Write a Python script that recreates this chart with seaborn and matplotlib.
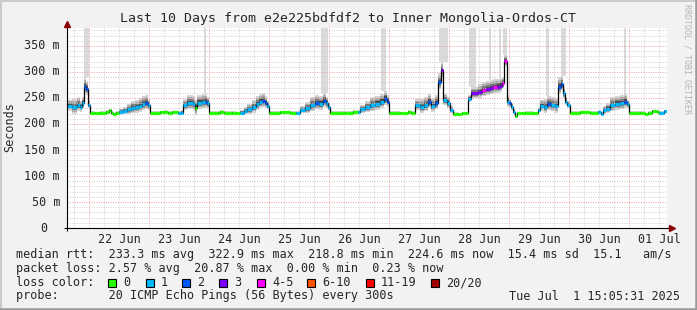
import numpy as np
import pandas as pd
import matplotlib
matplotlib.use("Agg")
import matplotlib.pyplot as plt
import matplotlib.transforms as mtransforms
from matplotlib.patches import Rectangle
from matplotlib.lines import Line2D
import seaborn as sns

# ---------------- data ----------------
# sample start, hours after 2025-06-21 15:05:31 (each value holds until the next sample)
hours = [0, 2, 4, 5.2, 6, 6.8, 7.6, 8.4,
         9.2, 11.2, 13.2, 15.6, 16.8, 17.6, 18.4, 19.6,
         20.8, 22.4, 24, 25.6, 27.2, 28.8, 30, 31.2, 32.4,
         33.2, 37.2, 38.8, 40.4, 42, 44.4,
         45.6, 46.4, 48, 50.4, 51.2, 52, 54, 55.2, 56,
         56.8, 60.4, 61.2, 62.8, 66, 67.6,
         69.2, 70.8, 72, 74, 75.6, 76.8, 78, 79.2, 80,
         80.8, 85.2, 89.2, 91.6,
         93.2, 95.2, 97.2, 99.2, 100.8, 102.4, 103.6, 104.4,
         105.2, 111.2, 114.4, 116.4,
         117.2, 119.2, 121.2, 123.2, 125.2, 126.8, 128,
         128.8, 133.2, 136.4, 137.6,
         139.2, 141.2, 142.8, 144.4, 145.6, 147.2, 148.4, 149.6, 150.4, 152, 153.2,
         154.4, 156.4, 158, 159.6,
         160.4, 161.6, 164.4, 166, 167.6, 169.2, 170.4, 172, 173.2, 174, 174.8, 176, 176.8, 177.6, 178.4, 179.2,
         180, 183.2, 186.4, 188.4,
         189.2, 190.8, 192, 193.6, 195.2, 196.4, 197.6, 198.4, 199.2, 200,
         201.2, 205.2, 209.2, 212.4, 213.6,
         214.4, 215.6, 217.2, 219.2, 221.2, 222.8, 224,
         224.8, 229.2, 231.2, 232.4, 234, 236, 236.8, 238.8]

median_ms = [235, 232, 237, 233, 240, 272, 268, 237,
             222, 221, 222, 224, 226, 222, 220, 222,
             224, 225, 228, 231, 232, 235, 238, 240, 236,
             222, 223, 224, 222, 223, 222,
             222, 236, 240, 238, 230, 241, 242, 243, 240,
             222, 222, 224, 222, 222, 221,
             222, 225, 228, 232, 238, 243, 244, 241, 235,
             222, 223, 222, 222,
             227, 230, 236, 240, 239, 245, 240, 232,
             222, 222, 224, 224,
             228, 232, 236, 239, 243, 249, 243,
             222, 221, 224, 222,
             236, 233, 236, 243, 235, 240, 280, 303, 246, 240, 227,
             220, 219, 221, 221,
             249, 259, 262, 265, 267, 269, 271, 272, 274, 278, 321, 243, 240, 233, 224, 215,
             221, 222, 221, 227,
             235, 233, 238, 236, 234, 272, 277, 259, 243, 237,
             222, 223, 222, 224, 220,
             226, 229, 236, 239, 240, 243, 238,
             222, 222, 219, 222, 225, 224, 222, 225]

# lost pings out of 20
loss_pings = [1, 1, 1, 1, 1, 2, 2, 1,
              0, 0, 0, 0, 0, 0, 0, 0,
              1, 1, 1, 1, 1, 1, 1, 2, 1,
              0, 0, 0, 0, 0, 1,
              1, 1, 1, 1, 0, 1, 1, 2, 1,
              0, 0, 0, 0, 0, 0,
              1, 1, 1, 1, 1, 1, 2, 2, 1,
              0, 0, 0, 1,
              1, 1, 1, 2, 1, 2, 1, 1,
              0, 0, 0, 1,
              1, 1, 1, 1, 1, 2, 2,
              0, 0, 0, 0,
              1, 1, 1, 2, 1, 2, 2, 3, 1, 1, 1,
              0, 0, 0, 0,
              1, 3, 3, 4, 3, 3, 4, 3, 3, 4, 4, 1, 2, 1, 1, 0,
              0, 0, 0, 1,
              1, 1, 2, 1, 1, 2, 2, 1, 1, 1,
              0, 0, 0, 1, 1,
              1, 1, 1, 1, 1, 2, 1,
              0, 0, 0, 0, 0, 0, 1, 1]

# half-width of the ping spread ("smoke") around the median, ms
smoke_ms = [11, 14, 14, 11, 11, 16, 14, 8,
            2, 2, 2, 2, 2, 2, 2, 2,
            5, 7, 10, 12, 12, 14, 14, 14, 11,
            2, 2, 2, 2, 2, 2,
            4, 11, 14, 14, 14, 14, 14, 14, 11,
            2, 2, 2, 2, 2, 2,
            4, 7, 10, 12, 14, 14, 14, 11, 8,
            2, 2, 2, 2,
            7, 11, 14, 14, 14, 14, 11, 7,
            2, 2, 2, 2,
            8, 11, 14, 14, 14, 14, 11,
            2, 2, 2, 2,
            11, 14, 14, 14, 14, 14, 16, 14, 11, 11, 7,
            2, 2, 2, 2,
            7, 11, 14, 14, 14, 14, 14, 14, 14, 11, 11, 11, 8, 7, 4, 2,
            2, 2, 2, 4,
            11, 14, 14, 14, 14, 16, 14, 11, 8, 7,
            2, 2, 2, 2, 2,
            7, 10, 14, 14, 14, 14, 8,
            2, 2, 2, 2, 2, 2, 2, 2]

# periods where the slowest pings were off the top of the scale (hours)
offscale_start_h = [6.8, 54.8, 101.6, 125.6, 148.8, 160.8, 168.8, 172.8, 174.4, 191.6, 197.6, 222.8]
offscale_end_h = [8.8, 55.6, 104.4, 127.6, 152.4, 163.6, 169.6, 173.6, 176.0, 192.8, 199.6, 223.6]

y_ticks = [0, 50, 100, 150, 200, 250, 300, 350]
y_tick_labels = ["0", "50 m", "100 m", "150 m", "200 m", "250 m", "300 m", "350 m"]
day_labels = ["22 Jun", "23 Jun", "24 Jun", "25 Jun", "26 Jun", "27 Jun",
              "28 Jun", "29 Jun", "30 Jun", "01 Jul"]

title = "Last 10 Days from e2e225bdfdf2 to Inner Mongolia-Ordos-CT"
median_row = ["median rtt:", "233.3 ms avg", "322.9 ms max", "218.8 ms min",
              "224.6 ms now", "15.4 ms sd", "15.1   am/s"]
loss_row = ["packet loss:", "2.57 % avg", "20.87 % max", "0.00 % min", "0.23 % now"]
loss_labels = ["0", "1", "2", "3", "4-5", "6-10", "11-19", "20/20"]
loss_colors = ["#26ff00", "#00b8ff", "#0059ff", "#7e00ff", "#ff00ff", "#ff5500", "#ff0000", "#a10000"]
probe_row = ["probe:      ", "20 ICMP Echo Pings (56 Bytes) every 300s"]
stamp = "Tue Jul  1 15:05:31 2025"

start_time = pd.Timestamp("2025-06-21 15:05:31")
span_hours = 240.0

# ---------------- styling / layout ----------------
sns.set_style("white")
plt.rcParams["font.family"] = ["DejaVu Sans Mono"]
FS = 8.45
plt.rcParams["font.size"] = FS

W, H = 697, 310
fig = plt.figure(figsize=(W / 100, H / 100), dpi=100)
fig.patch.set_facecolor("#f2f2f2")


def fx(px):
    return px / W


def fy(py):
    return 1 - py / H


PL, PR, PT, PB = 67, 667, 27.5, 228
ax = fig.add_axes([fx(PL), fy(PB), (PR - PL) / W, (PB - PT) / H])
ax.set_facecolor("white")
YMAX = (PB - PT) / 0.52
ax.set_xlim(0, span_hours)
ax.set_ylim(0, YMAX)
for s in ax.spines.values():
    s.set_visible(False)

hours_arr = np.array(hours, dtype=float)
med = np.array(median_ms, dtype=float)
sm = np.array(smoke_ms, dtype=float)
x_edges = np.append(hours_arr, span_hours)
med_ext = np.append(med, med[-1])
sm_ext = np.append(sm, sm[-1])


def loss_index(n):
    if n <= 3:
        return n
    if n <= 5:
        return 4
    if n <= 10:
        return 5
    if n <= 19:
        return 6
    return 7


# off-scale smoke bands
for a, b in zip(offscale_start_h, offscale_end_h):
    i0 = max(np.searchsorted(hours_arr, a, side="right") - 1, 0)
    i1 = max(np.searchsorted(hours_arr, b, side="left"), i0 + 1)
    bottom = max(med[i] + sm[i] * 1.1 for i in range(i0, i1))
    ax.fill_between([a, b], [bottom, bottom], [YMAX, YMAX], color="#dadada", lw=0, zorder=1)

# smoke layers
for k, c in [(1.0, "#d4d4d4"), (0.75, "#acacac"), (0.5, "#7c7c7c"), (0.28, "#4a4a4a")]:
    ax.fill_between(x_edges, med_ext - sm_ext * k * 0.85, med_ext + sm_ext * k * 1.1,
                    step="post", color=c, lw=0, zorder=2)

# grid
def to_h(ts):
    return (ts - start_time) / pd.Timedelta(hours=1)


grid6 = pd.date_range(start_time.ceil("6h"), start_time + pd.Timedelta(hours=span_hours), freq="6h")
midnights = grid6[grid6.hour == 0]
minor6 = grid6[grid6.hour != 0]
noons = midnights + pd.Timedelta(hours=12)
dot = (0, (1, 1.4))
GRID_C = "#d0d0d0"
MGRID_C = "#f0a0a0"
grid_cols = []
grid_cols.append(ax.vlines(to_h(minor6), 0, YMAX, colors=GRID_C, lw=0.72, linestyles=dot, zorder=3))
minor_y = [v for v in range(10, int(YMAX) + 1, 10) if v % 50]
grid_cols.append(ax.hlines(minor_y, 0, span_hours, colors=GRID_C, lw=0.72, linestyles=dot, zorder=3))
grid_cols.append(ax.vlines(to_h(midnights), 0, YMAX, colors=MGRID_C, lw=0.72, linestyles=dot, zorder=3))
grid_cols.append(ax.hlines(y_ticks[1:], 0, span_hours, colors=MGRID_C, lw=0.72, linestyles=dot, zorder=3))
for gc in grid_cols:
    gc.set_snap(True)

# median line: black steps + colour-coded level
sns.lineplot(x=x_edges, y=med_ext, ax=ax, drawstyle="steps-post", color="black",
             lw=0.9, estimator=None, sort=False, zorder=4)
seg_colors = [loss_colors[loss_index(n)] for n in loss_pings]
ax.hlines(med, x_edges[:-1], x_edges[1:], colors=seg_colors, lw=2.3, zorder=5)

# ticks
ax.set_yticks(y_ticks)
ax.tick_params(axis="y", length=2, width=0.7, color="#444444", labelleft=False, pad=0)
ax.set_xticks(to_h(midnights))
ax.tick_params(axis="x", which="major", length=2, width=0.7, color="#444444", labelbottom=False)
ax.set_xticks(to_h(noons), labels=day_labels, minor=True)
ax.tick_params(axis="x", which="minor", length=0, pad=3.4, labelsize=FS)

ylab_tr = mtransforms.blended_transform_factory(ax.transAxes, ax.transData)
for v, lab in zip(y_ticks, y_tick_labels):
    xr = -7 / (PR - PL) if lab != "0" else -20 / (PR - PL)
    ax.text(xr, v, lab, transform=ylab_tr, ha="right", va="center", fontsize=FS)

# axis lines with arrows
ax.plot([-3 / 600, 1.0 + 2 / 600], [0, 0], transform=ax.transAxes, color="black", lw=0.8,
        clip_on=False, zorder=7, solid_capstyle="butt")
ax.plot([1.0 + 5 / 600], [0], transform=ax.transAxes, marker=">", ms=4.2, color="#8b0000",
        clip_on=False, zorder=7, lw=0)
ax.plot([0, 0], [-3 / 200.5, 1.0 + 0.5 / 200.5], transform=ax.transAxes, color="black", lw=0.8,
        clip_on=False, zorder=7, solid_capstyle="butt")
ax.plot([0], [1.0 + 3.5 / 200.5], transform=ax.transAxes, marker="^", ms=4.2, color="#8b0000",
        clip_on=False, zorder=7, lw=0)

# texts
fig.text(fx(347.5), fy(22), title, ha="center", va="baseline", fontsize=9.5)
fig.text(fx(10), fy(127), "Seconds", rotation=90, ha="center", va="center", fontsize=FS)
fig.text(fx(687), fy(4), "RRDTOOL / TOBI OETIKER", rotation=270, ha="center", va="top",
         fontsize=6.0, color="#b4b4b4")

row_base = [258, 272, 286, 299.5]
fig.text(fx(16), fy(row_base[0]), "  ".join(median_row), ha="left", va="baseline", fontsize=FS)
fig.text(fx(16), fy(row_base[1]), loss_row[0] + " " + "  ".join(loss_row[1:]),
         ha="left", va="baseline", fontsize=FS)
fig.text(fx(16), fy(row_base[2]), "loss color:", ha="left", va="baseline", fontsize=FS)
box_x = [108, 146, 182, 219, 257, 307, 366, 431]
for lab, col, bx in zip(loss_labels, loss_colors, box_x):
    fig.add_artist(Rectangle((fx(bx), fy(286.5)), 8 / W, 8 / H, transform=fig.transFigure,
                             facecolor=col, edgecolor="black", lw=0.8))
    fig.text(fx(bx + 15), fy(row_base[2]), lab, ha="left", va="baseline", fontsize=FS)
fig.text(fx(16), fy(row_base[3]), " ".join(probe_row), ha="left", va="baseline", fontsize=FS)
fig.text(fx(680), fy(row_base[3]), stamp, ha="right", va="baseline", fontsize=FS)

# 3-D frame
fig.add_artist(Line2D([0, 1], [1 - 1 / H, 1 - 1 / H], transform=fig.transFigure, color="#cbcbcb", lw=1.5))
fig.add_artist(Line2D([1 / W, 1 / W], [0, 1], transform=fig.transFigure, color="#cbcbcb", lw=1.5))
fig.add_artist(Line2D([0, 1], [1.2 / H, 1.2 / H], transform=fig.transFigure, color="#999999", lw=1.8))
fig.add_artist(Line2D([1 - 1.2 / W, 1 - 1.2 / W], [0, 1], transform=fig.transFigure, color="#999999", lw=1.8))

fig.savefig("out.png", dpi=100, facecolor=fig.get_facecolor())
